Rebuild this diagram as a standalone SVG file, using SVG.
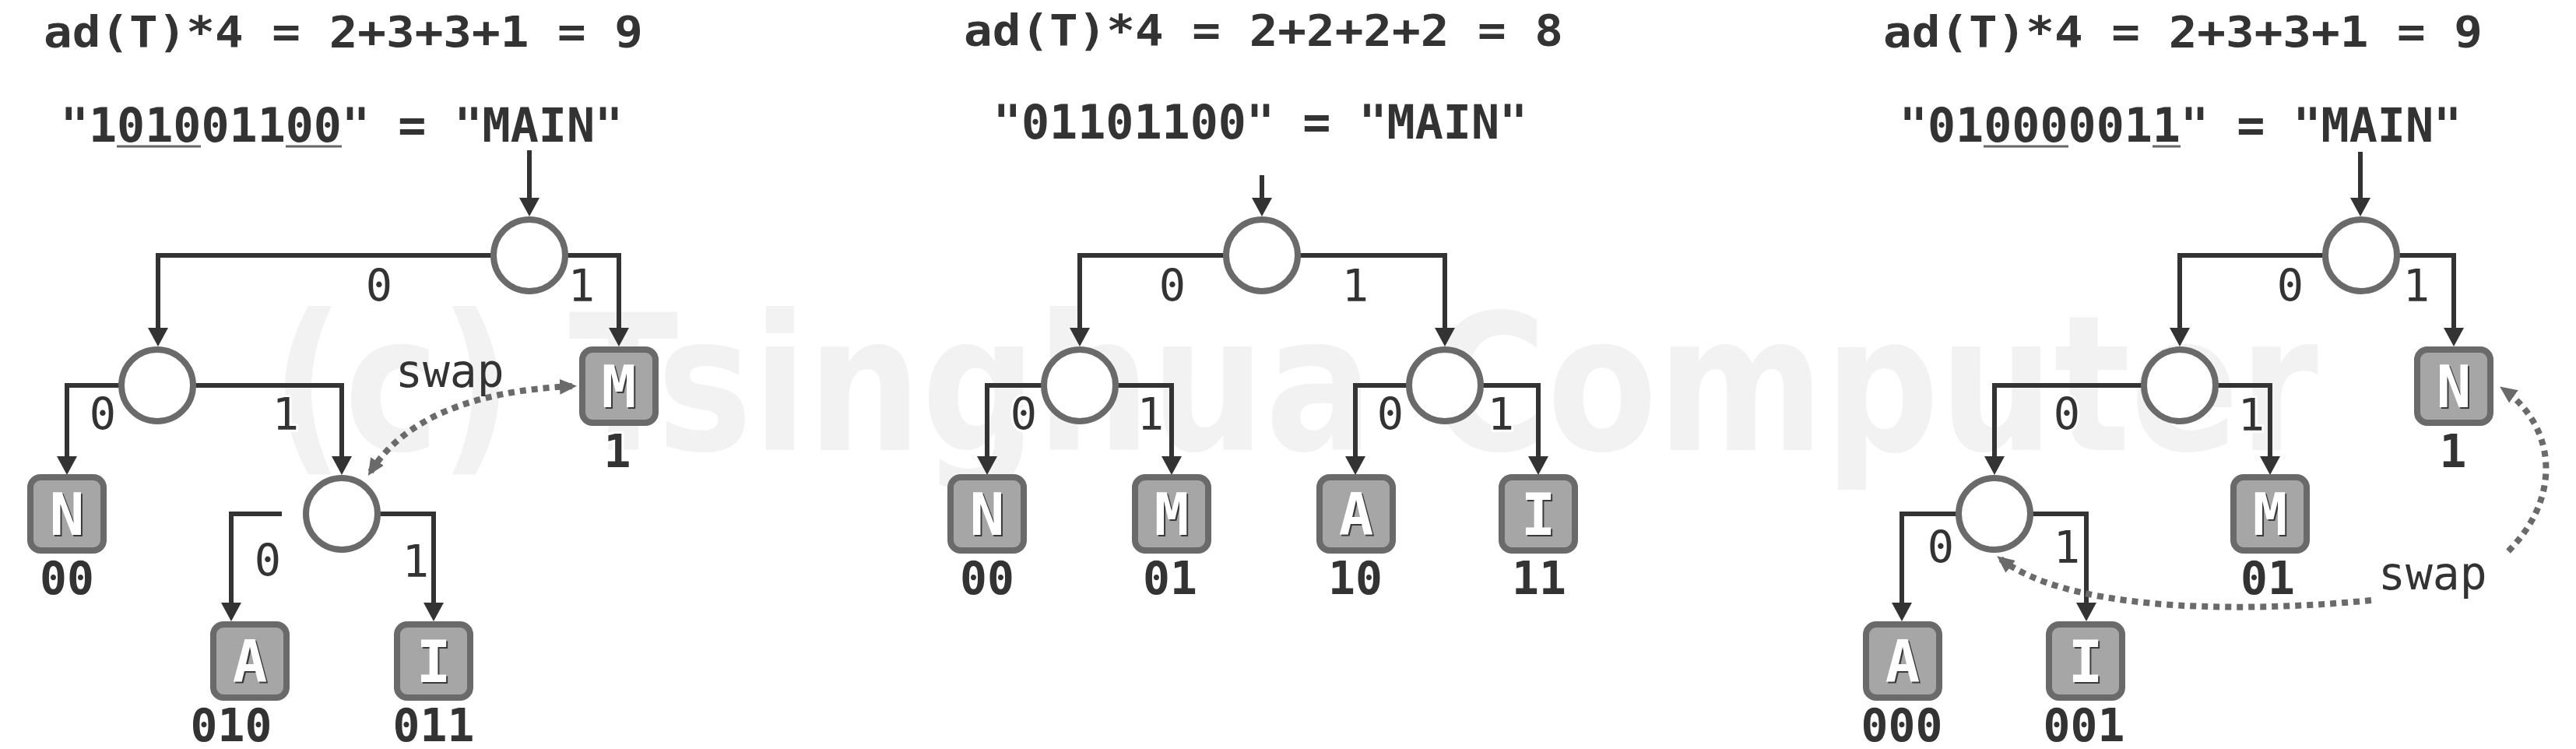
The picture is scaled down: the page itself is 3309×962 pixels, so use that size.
<svg xmlns="http://www.w3.org/2000/svg" width="3309" height="962" viewBox="0 0 3309 962">
<defs>
<style>
.mono{font-family:"DejaVu Sans Mono","Liberation Mono",monospace;fill:#333}
.title{font-size:56px;font-weight:bold}
.code{font-size:60px;font-weight:bold;text-anchor:middle}
.lbl{font-size:57px;text-anchor:middle;stroke:#fff;stroke-width:6px;paint-order:stroke;stroke-linejoin:round}
.lc{font-size:58px;font-weight:bold;text-anchor:middle;stroke:#fff;stroke-width:6px;paint-order:stroke;stroke-linejoin:round}
.swap{font-size:58px}
.edge{fill:none;stroke:#333;stroke-width:6;marker-end:url(#ah)}
.node circle{fill:#fff;stroke:#6a6a6a;stroke-width:8}
.leaf rect{fill:#a6a6a6;stroke:#6a6a6a;stroke-width:8}
.let{font-family:"DejaVu Sans Mono",monospace;font-weight:bold;font-size:74px;text-anchor:middle}
.sh{fill:#3a3a3a}
.wt{fill:#fff}
.dot{fill:none;stroke:#6a6a6a;stroke-width:8;stroke-dasharray:8 7}
.ul{stroke:#666;stroke-width:3}
.wm{font-family:"DejaVu Sans",sans-serif;font-weight:bold;font-size:242px;fill:#f2f2f2}
</style>
<marker id="ah" markerUnits="userSpaceOnUse" viewBox="0 0 24 26" refX="18" refY="13" markerWidth="24" markerHeight="26" orient="auto"><path d="M0,0 L24,13 L0,26 z" fill="#333"/></marker>
<marker id="dh" markerUnits="userSpaceOnUse" viewBox="0 0 22 20" refX="16" refY="10" markerWidth="22" markerHeight="20" orient="auto-start-reverse"><path d="M0,0 L22,10 L0,20 z" fill="#6a6a6a"/></marker>
</defs>
<rect width="3309" height="962" fill="#fff"/>
<text class="wm" x="348" y="578" textLength="2630" lengthAdjust="spacingAndGlyphs">(c) Tsinghua Computer</text>

<g id="headings" class="mono">
<text class="title" x="56" y="60" textLength="770" lengthAdjust="spacingAndGlyphs">ad(T)*4 = 2+3+3+1 = 9</text>
<text class="title" x="1238" y="58" textLength="770" lengthAdjust="spacingAndGlyphs">ad(T)*4 = 2+2+2+2 = 8</text>
<text class="title" x="2419" y="60" textLength="770" lengthAdjust="spacingAndGlyphs">ad(T)*4 = 2+3+3+1 = 9</text>
<text class="code" x="439" y="182">"101001100" = "MAIN"</text>
<text class="code" x="1619" y="178">"01101100" = "MAIN"</text>
<text class="code" x="2801" y="182">"010000011" = "MAIN"</text>
<line class="ul" x1="150" y1="188" x2="258" y2="188"/>
<line class="ul" x1="367" y1="188" x2="439" y2="188"/>
<line class="ul" x1="2548" y1="188" x2="2657" y2="188"/>
<line class="ul" x1="2765" y1="188" x2="2801" y2="188"/>
</g>

<g id="connectors">
<path class="edge" d="M680,193 V272"/>
<path class="edge" d="M680,328 H203 V439"/>
<path class="edge" d="M680,328 H795 V439"/>
<path class="edge" d="M202,495 H86 V604"/>
<path class="edge" d="M202,495 H439 V604"/>
<path class="edge" d="M362,660 H297 V792"/>
<path class="edge" d="M439,660 H557 V792"/>

<path class="edge" d="M1621,225 V272"/>
<path class="edge" d="M1621,328 H1387 V439"/>
<path class="edge" d="M1621,328 H1856 V439"/>
<path class="edge" d="M1387,495 H1268 V604"/>
<path class="edge" d="M1387,495 H1505 V604"/>
<path class="edge" d="M1856,495 H1741 V604"/>
<path class="edge" d="M1856,495 H1976 V604"/>

<path class="edge" d="M3032,195 V272"/>
<path class="edge" d="M3033,328 H2800 V439"/>
<path class="edge" d="M3033,328 H3152 V439"/>
<path class="edge" d="M2800,495 H2562 V604"/>
<path class="edge" d="M2800,495 H2916 V604"/>
<path class="edge" d="M2562,660 H2443 V792"/>
<path class="edge" d="M2562,660 H2680 V792"/>
</g>

<g id="p1-root" class="node"><circle cx="680" cy="328" r="46"/></g>
<g id="p1-n0" class="node"><circle cx="202" cy="495" r="46"/></g>
<g id="p1-n01" class="node"><circle cx="439" cy="660" r="46"/></g>
<g id="p2-root" class="node"><circle cx="1621" cy="328" r="46"/></g>
<g id="p2-n0" class="node"><circle cx="1387" cy="495" r="46"/></g>
<g id="p2-n1" class="node"><circle cx="1856" cy="495" r="46"/></g>
<g id="p3-root" class="node"><circle cx="3033" cy="328" r="46"/></g>
<g id="p3-n0" class="node"><circle cx="2800" cy="495" r="46"/></g>
<g id="p3-n00" class="node"><circle cx="2562" cy="660" r="46"/></g>

<g id="p1-M" class="leaf"><rect x="748" y="449" width="94" height="94" rx="13"/><text class="let sh" x="797" y="525">M</text><text class="let wt" x="795" y="523">M</text><text class="mono lc" x="793" y="600">1</text></g>
<g id="p1-N" class="leaf"><rect x="39" y="613" width="94" height="94" rx="13"/><text class="let sh" x="88" y="689">N</text><text class="let wt" x="86" y="687">N</text><text class="mono lc" x="86" y="763">00</text></g>
<g id="p1-A" class="leaf"><rect x="274" y="802" width="94" height="94" rx="13"/><text class="let sh" x="323" y="878">A</text><text class="let wt" x="321" y="876">A</text><text class="mono lc" x="297" y="952">010</text></g>
<g id="p1-I" class="leaf"><rect x="510" y="802" width="94" height="94" rx="13"/><text class="let sh" x="559" y="878">I</text><text class="let wt" x="557" y="876">I</text><text class="mono lc" x="557" y="952">011</text></g>

<g id="p2-N" class="leaf"><rect x="1221" y="613" width="94" height="94" rx="13"/><text class="let sh" x="1270" y="689">N</text><text class="let wt" x="1268" y="687">N</text><text class="mono lc" x="1268" y="763">00</text></g>
<g id="p2-M" class="leaf"><rect x="1458" y="613" width="94" height="94" rx="13"/><text class="let sh" x="1507" y="689">M</text><text class="let wt" x="1505" y="687">M</text><text class="mono lc" x="1503" y="763">01</text></g>
<g id="p2-A" class="leaf"><rect x="1695" y="613" width="94" height="94" rx="13"/><text class="let sh" x="1744" y="689">A</text><text class="let wt" x="1742" y="687">A</text><text class="mono lc" x="1741" y="763">10</text></g>
<g id="p2-I" class="leaf"><rect x="1929" y="613" width="94" height="94" rx="13"/><text class="let sh" x="1978" y="689">I</text><text class="let wt" x="1976" y="687">I</text><text class="mono lc" x="1977" y="763">11</text></g>

<g id="p3-N" class="leaf"><rect x="3105" y="449" width="94" height="94" rx="13"/><text class="let sh" x="3154" y="525">N</text><text class="let wt" x="3152" y="523">N</text><text class="mono lc" x="3151" y="600">1</text></g>
<g id="p3-M" class="leaf"><rect x="2869" y="613" width="94" height="94" rx="13"/><text class="let sh" x="2918" y="689">M</text><text class="let wt" x="2916" y="687">M</text><text class="mono lc" x="2913" y="763">01</text></g>
<g id="p3-A" class="leaf"><rect x="2397" y="802" width="94" height="94" rx="13"/><text class="let sh" x="2446" y="878">A</text><text class="let wt" x="2444" y="876">A</text><text class="mono lc" x="2443" y="952">000</text></g>
<g id="p3-I" class="leaf"><rect x="2632" y="802" width="94" height="94" rx="13"/><text class="let sh" x="2681" y="878">I</text><text class="let wt" x="2679" y="876">I</text><text class="mono lc" x="2677" y="952">001</text></g>

<g id="edge-labels" class="mono">
<text class="lbl" x="487" y="387">0</text><text class="lbl" x="747" y="387">1</text>
<text class="lbl" x="132" y="552">0</text><text class="lbl" x="367" y="552">1</text>
<text class="lbl" x="344" y="740">0</text><text class="lbl" x="534" y="741">1</text>
<text class="lbl" x="1506" y="387">0</text><text class="lbl" x="1741" y="387">1</text>
<text class="lbl" x="1315" y="552">0</text><text class="lbl" x="1478" y="552">1</text>
<text class="lbl" x="1786" y="552">0</text><text class="lbl" x="1928" y="552">1</text>
<text class="lbl" x="2942" y="387">0</text><text class="lbl" x="3104" y="387">1</text>
<text class="lbl" x="2655" y="552">0</text><text class="lbl" x="2892" y="553">1</text>
<text class="lbl" x="2493" y="723">0</text><text class="lbl" x="2655" y="723">1</text>
</g>

<g id="swaps">
<path class="dot" d="M476,606 Q540,505 735,496" marker-start="url(#dh)" marker-end="url(#dh)"/>
<text class="mono swap" x="508" y="497">swap</text>
<path class="dot" d="M3222,708 C3290,640 3285,550 3216,500" marker-end="url(#dh)"/>
<path class="dot" d="M3046,771 C2850,790 2650,780 2570,718" marker-end="url(#dh)"/>
<text class="mono swap" x="3055" y="757">swap</text>
</g>
</svg>
